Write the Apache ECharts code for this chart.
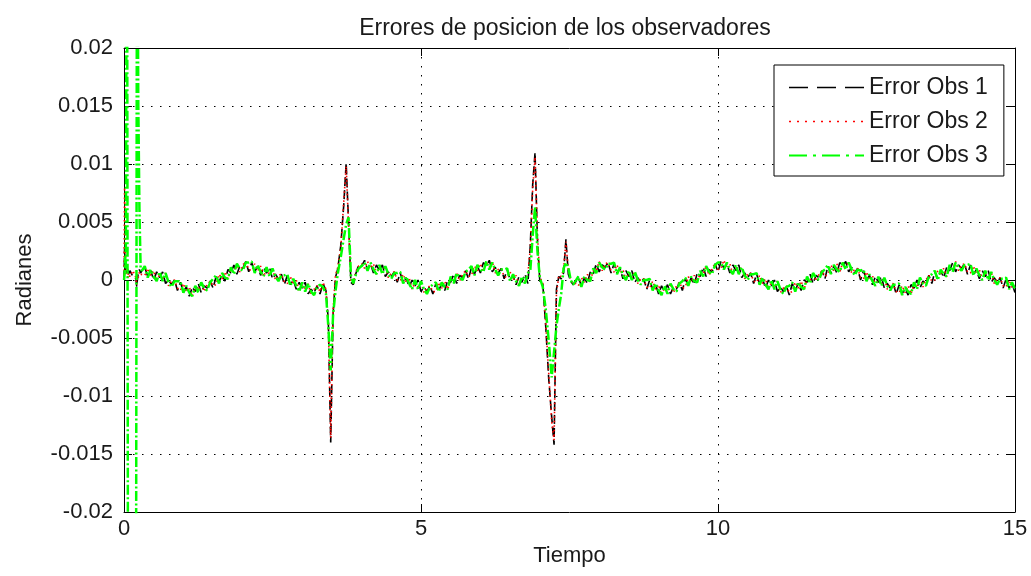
<!DOCTYPE html>
<html>
<head>
<meta charset="utf-8">
<title>Errores de posicion de los observadores</title>
<script src="https://cdn.jsdelivr.net/npm/echarts@6/dist/echarts.min.js"></script>
<style>
  html, body { margin: 0; padding: 0; background: #fff; }
  #chart { width: 1031px; height: 576px; }
</style>
</head>
<body>
<div id="chart"></div>
<script>
// Sample times (s); finer steps around the start-up transient and the two disturbances
const tiempo = [
  0, 0.01, 0.02, 0.03, 0.05, 0.065, 0.07, 0.1, 0.15, 0.2, 0.215, 0.22, 0.24, 0.26, 0.28, 0.3,
  0.35, 0.4, 0.45, 0.5, 0.55, 0.6, 0.65, 0.7, 0.75, 0.8, 0.85, 0.9, 0.95, 1.0, 1.05, 1.1, 1.15, 1.2, 1.25, 1.3,
  1.35, 1.4, 1.45, 1.5, 1.55, 1.6, 1.65, 1.7, 1.75, 1.8, 1.85, 1.9, 1.95, 2.0, 2.05, 2.1, 2.15, 2.2, 2.25, 2.3,
  2.35, 2.4, 2.45, 2.5, 2.55, 2.6, 2.65, 2.7, 2.75, 2.8, 2.85, 2.9, 2.95, 3.0, 3.05, 3.1, 3.15, 3.2, 3.25, 3.3,
  3.35, 3.4, 3.44, 3.48, 3.52, 3.56, 3.6, 3.65, 3.7, 3.74, 3.78, 3.82, 3.86, 3.9, 3.95, 4.0,
  4.05, 4.1, 4.15, 4.2, 4.25, 4.3, 4.35, 4.4, 4.45, 4.5, 4.55, 4.6, 4.65, 4.7, 4.75, 4.8, 4.85, 4.9, 4.95, 5.0,
  5.05, 5.1, 5.15, 5.2, 5.25, 5.3, 5.35, 5.4, 5.45, 5.5, 5.55, 5.6, 5.65, 5.7, 5.75, 5.8, 5.85, 5.9, 5.95, 6.0,
  6.05, 6.1, 6.15, 6.2, 6.25, 6.3, 6.35, 6.4, 6.45, 6.5, 6.55, 6.6, 6.65, 6.7, 6.75, 6.8,
  6.84, 6.88, 6.92, 6.96, 7.0, 7.05, 7.1, 7.15, 7.2, 7.24, 7.28, 7.32, 7.36, 7.4, 7.44, 7.48, 7.52, 7.56, 7.6,
  7.65, 7.7, 7.75, 7.8, 7.85, 7.9, 7.95, 8.0, 8.05, 8.1, 8.15, 8.2,
  8.25, 8.3, 8.35, 8.4, 8.45, 8.5, 8.55, 8.6, 8.65, 8.7, 8.75, 8.8,
  8.85, 8.9, 8.95, 9.0, 9.05, 9.1, 9.15, 9.2, 9.25, 9.3, 9.35, 9.4,
  9.45, 9.5, 9.55, 9.6, 9.65, 9.7, 9.75, 9.8, 9.85, 9.9, 9.95, 10.0,
  10.05, 10.1, 10.15, 10.2, 10.25, 10.3, 10.35, 10.4, 10.45, 10.5, 10.55, 10.6,
  10.65, 10.7, 10.75, 10.8, 10.85, 10.9, 10.95, 11.0, 11.05, 11.1, 11.15, 11.2,
  11.25, 11.3, 11.35, 11.4, 11.45, 11.5, 11.55, 11.6, 11.65, 11.7, 11.75, 11.8,
  11.85, 11.9, 11.95, 12.0, 12.05, 12.1, 12.15, 12.2, 12.25, 12.3, 12.35, 12.4,
  12.45, 12.5, 12.55, 12.6, 12.65, 12.7, 12.75, 12.8, 12.85, 12.9, 12.95, 13.0,
  13.05, 13.1, 13.15, 13.2, 13.25, 13.3, 13.35, 13.4, 13.45, 13.5, 13.55, 13.6,
  13.65, 13.7, 13.75, 13.8, 13.85, 13.9, 13.95, 14.0, 14.05, 14.1, 14.15, 14.2,
  14.25, 14.3, 14.35, 14.4, 14.45, 14.5, 14.55, 14.6, 14.65, 14.7, 14.75, 14.8,
  14.85, 14.9, 14.95, 15.0
];

// Position error of observer 1 (rad)
const errorObs1 = [
  0, 0.0028, 0.0008, 0.0012, 0.0006, 0.0009, 0.0004, 0.0008, 0.0003, 0.0001, -0.0006, -0.0002, 0.0006, 0.0009, 0.0006, 0.0008,
  0.0011, 0.0003, 0.0008, 0, 0.0007, 0.0002, 0.0007, -0.0003, 0, -0.0004, 0, -0.0009, -0.0002, -0.001, -0.0006, -0.0014, -0.0006, -0.001, -0.0003, -0.0011,
  -0.0005, -0.0007, -0.0001, -0.0007, 0.0003, -0.0002, 0.0005, -0.0001, 0.0009, 0.0006, 0.0013, 0.0005, 0.0012, 0.001, 0.0016, 0.0007, 0.0015, 0.0007, 0.0012, 0.0004,
  0.0011, 0.0006, 0.0011, 0.0001, 0.0005, 0.0001, 0.0005, -0.0004, 0.0004, -0.0004, 0, -0.0008, -0.0002, -0.0007, -0.0002, -0.0012, -0.0008, -0.0011, -0.0005, -0.0012,
  -0.0003, -0.0009, -0.0035, -0.014, -0.003, 0.0002, 0.001, 0.003, 0.0065, 0.0101, 0.005, -0.0002, -0.0004, 0.0005, 0.0013, 0.0012,
  0.0017, 0.0009, 0.0014, 0.0006, 0.0013, 0.0008, 0.0013, 0.0003, 0.0007, 0.0003, 0.0007, -0.0002, 0.0006, -0.0002, 0.0002, -0.0006, 0, -0.0005, 0, -0.001,
  -0.0006, -0.001, -0.0005, -0.0012, -0.0003, -0.0009, -0.0003, -0.0009, 0, -0.0002, 0.0005, -0.0003, 0.0004, 0.0002, 0.0008, 0.0001, 0.0011, 0.0005, 0.0012, 0.0006,
  0.0015, 0.0012, 0.0017, 0.0007, 0.0011, 0.0006, 0.001, 0.0001, 0.0009, 0, 0.0004, -0.0004, 0.0003, -0.0002, 0.0005, -0.0003,
  0.003, 0.0082, 0.011, 0.0035, -0.0001, -0.0003, -0.004, -0.0085, -0.0118, -0.0142, -0.0008, 0.0003, 0.0001, 0.0006, 0.0035, 0.0005, -0.0001, -0.0004, -0.0002,
  0.0002, -0.0005, 0.0002, -0.0003, 0.0007, 0.0005, 0.0014, 0.0007, 0.0013, 0.0011, 0.0015, 0.0006,
  0.0014, 0.0006, 0.001, 0.0001, 0.0008, 0.0003, 0.0008, -0.0002, 0.0002, -0.0002, 0.0001, -0.0008,
  0, -0.0008, -0.0004, -0.0012, -0.0005, -0.001, -0.0004, -0.0012, -0.0006, -0.0008, -0.0002, -0.0009,
  0.0001, -0.0004, 0.0002, -0.0004, 0.0006, 0.0003, 0.0011, 0.0003, 0.0009, 0.0007, 0.0014, 0.0007,
  0.0016, 0.001, 0.0014, 0.0006, 0.0013, 0.0008, 0.0013, 0.0002, 0.0006, 0.0002, 0.0006, -0.0003,
  0.0005, -0.0003, 0.0001, -0.0007, 0, -0.0005, 0, -0.001, -0.0006, -0.001, -0.0005, -0.0013,
  -0.0003, -0.0009, -0.0003, -0.0009, 0, -0.0002, 0.0005, -0.0003, 0.0004, 0.0002, 0.0008, 0.0001,
  0.0012, 0.0006, 0.0012, 0.0006, 0.0015, 0.0012, 0.0016, 0.0007, 0.0011, 0.0006, 0.001, 0,
  0.0008, 0, 0.0004, -0.0004, 0.0003, -0.0002, 0.0003, -0.0007, -0.0003, -0.0007, -0.0003, -0.0012,
  -0.0004, -0.0012, -0.0007, -0.0013, -0.0004, -0.0007, 0, -0.0007, -0.0001, -0.0003, 0.0004, -0.0003,
  0.0007, 0.0001, 0.0008, 0.0002, 0.0011, 0.0008, 0.0015, 0.0007, 0.0013, 0.001, 0.0014, 0.0005,
  0.0013, 0.0005, 0.0009, 0.0001, 0.0008, 0.0003, 0.0008, -0.0002, 0.0002, -0.0002, 0.0002, -0.0007,
  0.0001, -0.0007, -0.0003, -0.0011
];

// Position error of observer 2 (rad)
const errorObs2 = [
  0, 0.008, 0.003, 0.0005, 0.0012, 0.0002, 0.0006, 0.0003, 0.0008, 0.0002, -0.0004, 0.0005, 0.0002, 0.0007, 0.0005, 0.0006,
  0.0004, 0.001, 0.0004, 0.0008, -0.0001, 0.0005, 0.0001, 0.0006, -0.0005, -0.0001, 0, -0.0007, -0.0009, -0.0003, -0.001, -0.0006, -0.0014, -0.0007, -0.0009, -0.0002,
  -0.001, -0.0004, -0.0001, -0.0005, -0.0004, 0.0005, 0.0001, 0.0007, 0.0001, 0.0009, 0.0007, 0.0014, 0.0007, 0.0013, 0.0016, 0.0009, 0.0008, 0.0014, 0.0008, 0.0012,
  0.0003, 0.0009, 0.0005, 0.001, 0, 0.0004, 0.0005, -0.0002, -0.0003, 0.0003, -0.0004, 0, -0.001, -0.0004, -0.0008, -0.0003, -0.0013, -0.0008, -0.0005, -0.001,
  -0.0002, -0.0008, -0.0038, -0.0136, -0.0026, 0.0004, 0.0011, 0.0028, 0.0068, 0.0098, 0.0048, 0, -0.0003, 0.0007, 0.0012, 0.0014,
  0.001, 0.0016, 0.001, 0.0014, 0.0005, 0.0011, 0.0007, 0.0012, 0.0002, 0.0006, 0.0007, 0, -0.0001, 0.0005, -0.0002, 0.0002, -0.0008, -0.0002, -0.0006, -0.0001,
  -0.0011, -0.0007, -0.0005, -0.001, -0.001, -0.0002, -0.0007, -0.0001, -0.0008, 0.0001, -0.0001, 0.0006, -0.0001, 0.0005, 0.0008, 0.0003, 0.0004, 0.0012, 0.0008, 0.0014,
  0.0007, 0.0015, 0.0011, 0.0016, 0.0006, 0.0009, 0.001, 0.0003, 0.0002, 0.0007, 0, 0.0004, -0.0005, 0.0001, -0.0001, 0.0006,
  0.0027, 0.0078, 0.0106, 0.004, 0.0002, -0.0002, -0.0038, -0.008, -0.0122, -0.0138, -0.0012, 0.0004, 0.0003, 0.0009, 0.0033, 0.0008, 0, -0.0003, -0.0003,
  -0.0005, 0.0002, -0.0002, 0.0005, -0.0001, 0.0008, 0.0008, 0.0016, 0.0008, 0.0014, 0.0015, 0.0008,
  0.0007, 0.0013, 0.0006, 0.0009, 0, 0.0006, 0.0002, 0.0007, -0.0003, 0.0001, 0.0001, -0.0006,
  -0.0007, -0.0001, -0.0008, -0.0004, -0.0013, -0.0007, -0.001, -0.0003, -0.0011, -0.0005, -0.0002, -0.0007,
  -0.0006, 0.0003, -0.0002, 0.0004, -0.0002, 0.0006, 0.0005, 0.0012, 0.0004, 0.001, 0.0014, 0.0009,
  0.001, 0.0017, 0.001, 0.0014, 0.0005, 0.0011, 0.0007, 0.0011, 0.0001, 0.0005, 0.0006, -0.0001,
  -0.0002, 0.0004, -0.0003, 0.0001, -0.0008, -0.0002, -0.0006, -0.0001, -0.0011, -0.0007, -0.0005, -0.0011,
  -0.001, -0.0002, -0.0007, -0.0001, -0.0008, 0.0001, -0.0001, 0.0006, -0.0001, 0.0005, 0.0008, 0.0003,
  0.0005, 0.0013, 0.0008, 0.0014, 0.0007, 0.0015, 0.0011, 0.0016, 0.0006, 0.0009, 0.001, 0.0002,
  0.0001, 0.0007, 0, 0.0004, -0.0005, 0.0001, -0.0003, 0.0002, -0.0008, -0.0004, -0.0003, -0.001,
  -0.0011, -0.0005, -0.0011, -0.0005, -0.0012, -0.0004, -0.0006, 0.0002, -0.0006, 0, 0.0004, -0.0001,
  0, 0.0008, 0.0004, 0.001, 0.0003, 0.0011, 0.0009, 0.0016, 0.0008, 0.0013, 0.0014, 0.0007,
  0.0006, 0.0012, 0.0005, 0.0009, 0, 0.0006, 0.0002, 0.0007, -0.0003, 0.0001, 0.0002, -0.0005,
  -0.0006, 0, -0.0007, -0.0003
];

// Position error of observer 3 (rad); its start-up transient leaves the axis range
const errorObs3 = [
  0, 0.0005, 0.002, 0.001, 0.04, 0.04, -0.04, -0.04, -0.04, -0.04, -0.04, 0.04, 0.0155, 0.006, 0.001, 0.0008,
  0.0012, 0.0002, 0.0009, 0.0003, -0.0001, 0.0007, -0.0001, 0.0006, -0.0002, -0.0006, -0.0001, -0.0001, -0.0001, -0.0011, -0.0005, -0.0011, -0.0014, -0.0005, -0.0011, -0.0002,
  -0.0007, -0.0009, -0.0002, 0.0001, 0.0004, -0.0003, 0.0006, 0.0002, 0.0001, 0.0011, 0.0005, 0.0014, 0.001, 0.0008, 0.0015, 0.0015, 0.0016, 0.0006, 0.0013, 0.0007,
  0.0003, 0.0011, 0.0003, 0.001, 0.0003, -0.0001, 0.0004, 0.0004, 0.0005, -0.0005, 0.0001, -0.0005, -0.001, -0.0002, -0.001, -0.0003, -0.001, -0.0013, -0.0006, -0.0004,
  -0.0006, -0.0012, -0.004, -0.0078, -0.003, -0.001, 0.0006, 0.002, 0.0036, 0.0048, 0.0054, 0.0004, -0.0003, 0.0004, 0.001, 0.0012,
  0.0015, 0.0008, 0.0015, 0.0009, 0.0005, 0.0013, 0.0005, 0.0012, 0.0005, 0.0001, 0.0006, 0.0006, 0.0007, -0.0003, 0.0003, -0.0003, -0.0008, 0, -0.0008, -0.0001,
  -0.0008, -0.0012, -0.0006, -0.0004, -0.0002, -0.001, -0.0002, -0.0006, -0.0008, 0.0003, -0.0003, 0.0006, 0.0002, 0, 0.0007, 0.0009, 0.0012, 0.0004, 0.0013, 0.0009,
  0.0007, 0.0016, 0.0009, 0.0015, 0.0009, 0.0004, 0.0009, 0.0009, 0.001, -0.0001, 0.0005, -0.0001, -0.0005, 0.0003, -0.0003, 0.0006,
  0.0008, 0.0038, 0.0063, 0.0025, 0.0002, -0.0006, -0.0025, -0.0052, -0.0084, -0.0062, -0.004, -0.0025, -0.0012, 0.001, 0.0015, 0.0011, 0, -0.0004, -0.0001,
  0.0003, -0.0006, 0.0003, 0, -0.0001, 0.001, 0.0006, 0.0015, 0.0011, 0.0009, 0.0014, 0.0014,
  0.0015, 0.0005, 0.0011, 0.0004, 0, 0.0008, 0, 0.0007, 0, -0.0004, 0, 0,
  0.0001, -0.0009, -0.0003, -0.0009, -0.0013, -0.0005, -0.0012, -0.0003, -0.0008, -0.001, -0.0003, -0.0001,
  0.0002, -0.0005, 0.0003, -0.0001, -0.0002, 0.0008, 0.0003, 0.0012, 0.0007, 0.0005, 0.0013, 0.0015,
  0.0015, 0.0009, 0.0015, 0.0009, 0.0005, 0.0013, 0.0005, 0.0011, 0.0004, 0, 0.0005, 0.0005,
  0.0006, -0.0004, 0.0002, -0.0004, -0.0008, 0, -0.0008, -0.0001, -0.0008, -0.0012, -0.0006, -0.0005,
  -0.0002, -0.001, -0.0002, -0.0006, -0.0008, 0.0003, -0.0003, 0.0006, 0.0002, 0, 0.0007, 0.0009,
  0.0013, 0.0005, 0.0013, 0.0009, 0.0007, 0.0015, 0.0009, 0.0015, 0.0009, 0.0004, 0.0009, 0.0008,
  0.0009, -0.0001, 0.0005, -0.0001, -0.0005, 0.0003, -0.0005, 0.0002, -0.0005, -0.0009, -0.0004, -0.0004,
  -0.0003, -0.0013, -0.0006, -0.001, -0.0012, -0.0002, -0.0008, 0.0002, -0.0003, -0.0005, 0.0003, 0.0005,
  0.0008, 0, 0.0009, 0.0005, 0.0003, 0.0013, 0.0007, 0.0015, 0.0011, 0.0008, 0.0013, 0.0013,
  0.0014, 0.0004, 0.001, 0.0004, 0, 0.0008, 0, 0.0007, 0, -0.0004, 0.0001, 0.0001,
  0.0002, -0.0008, -0.0002, -0.0008
];

const seriesNames = ['Error Obs 1', 'Error Obs 2', 'Error Obs 3'];
const xTicks = { min: 0, max: 15, interval: 5 };
const yTicks = { min: -0.02, max: 0.02, interval: 0.005 };

const FONT = '"Liberation Sans", Arial, Helvetica, sans-serif';
const TEXT = '#1a1a1a';

const pairs = arr => tiempo.map((t, i) => [t, arr[i]]);

const chart = echarts.init(document.getElementById('chart'), null, { renderer: 'canvas' });

// Box-style axes: black frame with inward ticks on all four sides
const boxAxis = {
  axisLine: { show: true, onZero: false, lineStyle: { color: '#000', width: 1 } },
  axisTick: { show: true, inside: true, length: 8, lineStyle: { color: '#000', width: 1 } }
};
const gridDots = { show: true, lineStyle: { color: '#000', type: [1.5, 7.5], width: 1 } };

chart.setOption({
  animation: false,
  backgroundColor: '#fff',
  textStyle: { fontFamily: FONT },
  title: {
    text: 'Errores de posicion de los observadores',
    left: 565, top: 17, padding: 0, textAlign: 'center',
    textStyle: { fontFamily: FONT, fontSize: 23, fontWeight: 'normal', color: TEXT }
  },
  legend: {
    orient: 'vertical',
    left: 774, top: 65,
    padding: [11, 16, 9, 14],
    itemWidth: 75, itemHeight: 23, itemGap: 11,
    backgroundColor: '#fff', borderColor: '#000', borderWidth: 1,
    selectedMode: false,
    itemStyle: { opacity: 0, borderWidth: 0 },
    textStyle: { fontFamily: FONT, fontSize: 23, color: TEXT },
    data: [
      { name: seriesNames[0], lineStyle: { type: [19, 9], width: 1.5, opacity: 1 } },
      { name: seriesNames[1], lineStyle: { type: [2, 6], width: 1.5, opacity: 1 } },
      { name: seriesNames[2], lineStyle: { type: [18, 6, 3, 6], width: 2, opacity: 1 } }
    ]
  },
  grid: { left: 124, right: 16, top: 48, bottom: 64, containLabel: false },
  xAxis: [
    Object.assign({
      type: 'value', position: 'bottom',
      min: xTicks.min, max: xTicks.max, interval: xTicks.interval,
      name: 'Tiempo', nameLocation: 'middle', nameGap: 32,
      nameTextStyle: { fontFamily: FONT, fontSize: 22, color: TEXT },
      axisLabel: { fontFamily: FONT, fontSize: 22, color: TEXT, margin: 6 },
      splitLine: gridDots
    }, boxAxis),
    Object.assign({
      type: 'value', position: 'top',
      min: xTicks.min, max: xTicks.max, interval: xTicks.interval,
      axisLabel: { show: false }, splitLine: { show: false }
    }, boxAxis)
  ],
  yAxis: [
    Object.assign({
      type: 'value', position: 'left',
      min: yTicks.min, max: yTicks.max, interval: yTicks.interval,
      name: 'Radianes', nameLocation: 'middle', nameGap: 88, nameRotate: 90,
      nameTextStyle: { fontFamily: FONT, fontSize: 22, color: TEXT },
      axisLabel: {
        fontFamily: FONT, fontSize: 22, color: TEXT, margin: 11,
        formatter: v => String(parseFloat(v.toFixed(3)))
      },
      splitLine: gridDots
    }, boxAxis),
    Object.assign({
      type: 'value', position: 'right',
      min: yTicks.min, max: yTicks.max, interval: yTicks.interval,
      axisLabel: { show: false }, splitLine: { show: false }
    }, boxAxis)
  ],
  // Drawn in legend order: observer 3 (green) ends up on top
  series: [
    {
      name: seriesNames[0], type: 'line', data: pairs(errorObs1),
      symbol: 'none', clip: true, z: 2,
      lineStyle: { color: '#000000', width: 1.6, type: [9, 4] },
      itemStyle: { color: '#000000' }
    },
    {
      name: seriesNames[1], type: 'line', data: pairs(errorObs2),
      symbol: 'none', clip: true, z: 3,
      lineStyle: { color: '#ff0000', width: 1.6, type: [1.5, 3] },
      itemStyle: { color: '#ff0000' }
    },
    {
      name: seriesNames[2], type: 'line', data: pairs(errorObs3),
      symbol: 'none', clip: true, z: 4,
      lineStyle: { color: '#00ff00', width: 2.5, type: [10, 2.5, 2, 2.5] },
      itemStyle: { color: '#00ff00' }
    }
  ]
});
</script>
</body>
</html>
